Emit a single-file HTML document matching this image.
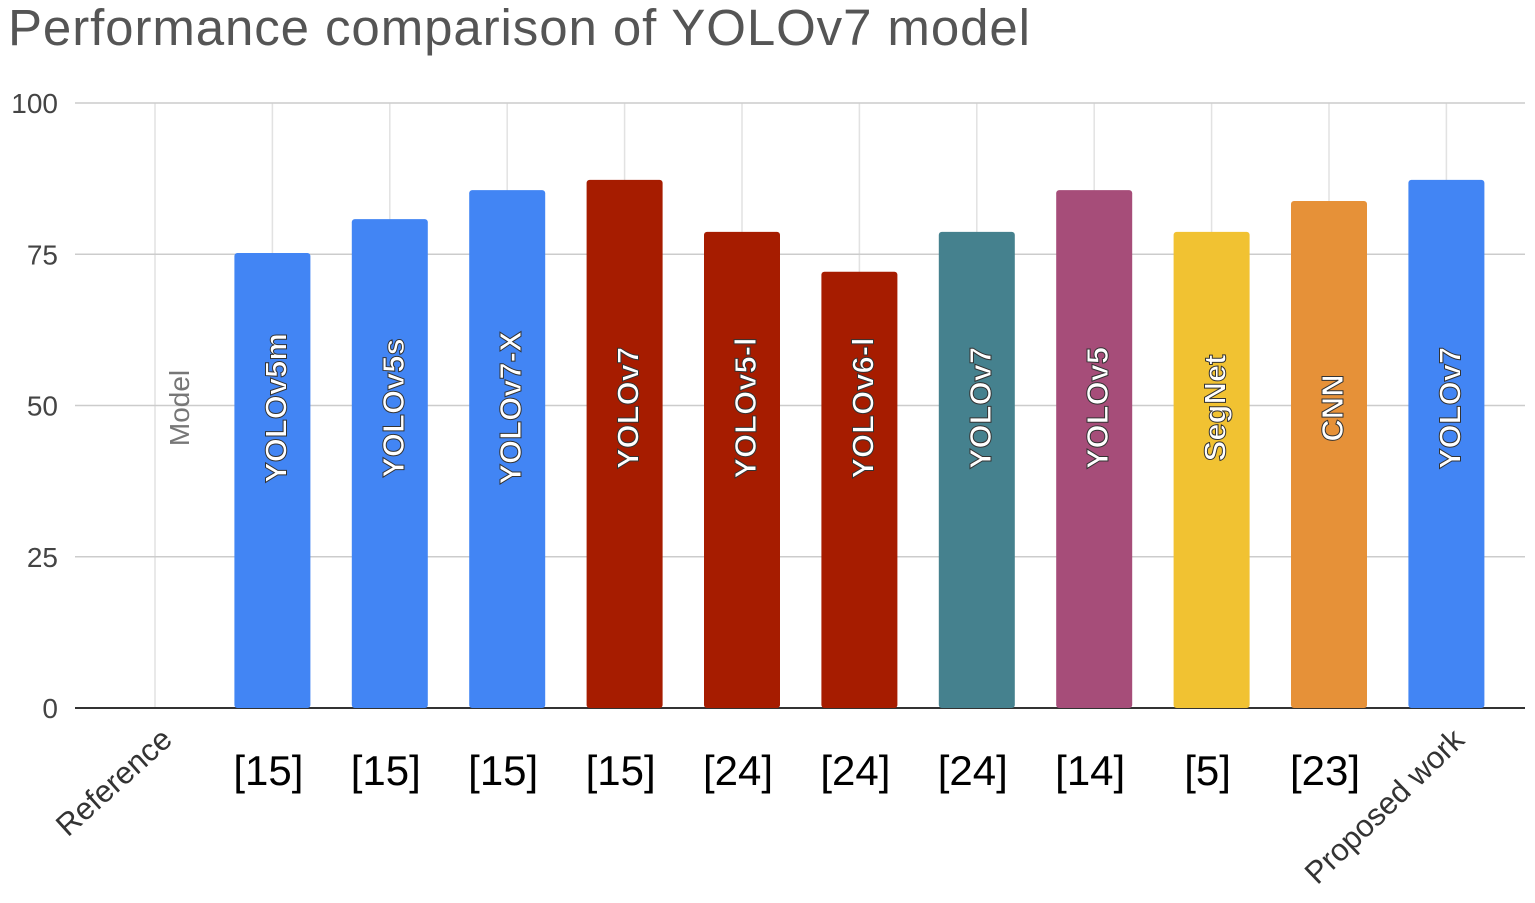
<!DOCTYPE html>
<html><head><meta charset="utf-8"><style>
body{margin:0;background:#fff;width:1535px;height:898px;overflow:hidden;font-family:"Liberation Sans",sans-serif}
</style></head><body>
<svg id="chart" width="1535" height="898">
<text x="8" y="45" font-size="51" fill="#555" textLength="1022">Performance comparison of YOLOv7 model</text>
<g id="gridlayer"></g><g id="barlayer"></g><g id="labellayer"></g>
</svg>
<script>
const categories=["Reference","[15]","[15]","[15]","[15]","[24]","[24]","[24]","[14]","[5]","[23]","Proposed work"];
const models=["Model","YOLOv5m","YOLOv5s","YOLOv7-X","YOLOv7","YOLOv5-l","YOLOv6-l","YOLOv7","YOLOv5","SegNet","CNN","YOLOv7"];
const values=[0,75.2,80.8,85.6,87.3,78.7,72.1,78.7,85.6,78.7,83.8,87.3];
const colors=["none","#4285f4","#4285f4","#4285f4","#a61c00","#a61c00","#a61c00","#45818e","#a64d79","#f1c232","#e69138","#4285f4"];
const yTicks=[0,25,50,75,100];
const SVGNS="http://www.w3.org/2000/svg";
function yScale(v){return 708-v*6.05;}
function xScale(i){return 155+i*117.4;}
const gridG=document.getElementById('gridlayer');
const barG=document.getElementById('barlayer');
const labG=document.getElementById('labellayer');
for(let k=0;k<categories.length;k++){
 const vl=document.createElementNS(SVGNS,'line');
 vl.setAttribute('x1',xScale(k));vl.setAttribute('x2',xScale(k));
 vl.setAttribute('y1',103);vl.setAttribute('y2',708);
 vl.setAttribute('stroke','#e2e2e2');vl.setAttribute('stroke-width','1.5');
 
 
 gridG.appendChild(vl);
}
for(let k=0;k<yTicks.length;k++){
 const t=yTicks[k];
 const ln=document.createElementNS(SVGNS,'line');
 ln.setAttribute('x1',75);ln.setAttribute('x2',1525);
 ln.setAttribute('y1',yScale(t));ln.setAttribute('y2',yScale(t));
 ln.setAttribute('stroke',t===0?'#333':'#ccc');ln.setAttribute('stroke-width',t===0?'2':'1.5');
 
 
 gridG.appendChild(ln);
 const tx=document.createElementNS(SVGNS,'text');
 tx.setAttribute('x',58);tx.setAttribute('y',yScale(t)+10);
 tx.setAttribute('font-size','28');tx.setAttribute('fill','#444');tx.setAttribute('text-anchor','end');
 tx.textContent=String(t);
 
 
 gridG.appendChild(tx);
}
for(let i=0;i<values.length;i++){
 const cx=xScale(i);
 if(i>0){
  const r=document.createElementNS(SVGNS,'rect');
  r.setAttribute('x',cx-38);r.setAttribute('y',yScale(values[i]));
  r.setAttribute('width',76);r.setAttribute('height',708-yScale(values[i]));
  r.setAttribute('fill',colors[i]);r.setAttribute('rx',3);
  
  
  barG.appendChild(r);
 }
 const mt=document.createElementNS(SVGNS,'text');
 mt.setAttribute('transform','translate('+(cx+(i===0?34:14))+',408) rotate(-90)');
 mt.setAttribute('font-size',i===0?'28':'31');
 mt.setAttribute('fill',i===0?'#777':'#fff');
 mt.setAttribute('text-anchor','middle');
 if(i>0){mt.setAttribute('stroke','#333');mt.setAttribute('stroke-width','1');mt.setAttribute('font-weight','bold');}
 mt.textContent=models[i];
 
 
 labG.appendChild(mt);
 const lb=document.createElementNS(SVGNS,'text');
 if(i===0){
  lb.setAttribute('transform','translate(174,742) rotate(-42)');
  lb.setAttribute('font-size','31');lb.setAttribute('fill','#333');lb.setAttribute('text-anchor','end');
 }else if(i===categories.length-1){
  lb.setAttribute('transform','translate(1466,742) rotate(-44)');
  lb.setAttribute('font-size','31');lb.setAttribute('fill','#333');lb.setAttribute('text-anchor','end');
 }else{
  lb.setAttribute('x',cx-4);lb.setAttribute('y',785);
  lb.setAttribute('font-size','42');lb.setAttribute('fill','#000');lb.setAttribute('text-anchor','middle');
 }
 lb.textContent=categories[i];
 
 
 labG.appendChild(lb);
}
</script>
</body></html>
